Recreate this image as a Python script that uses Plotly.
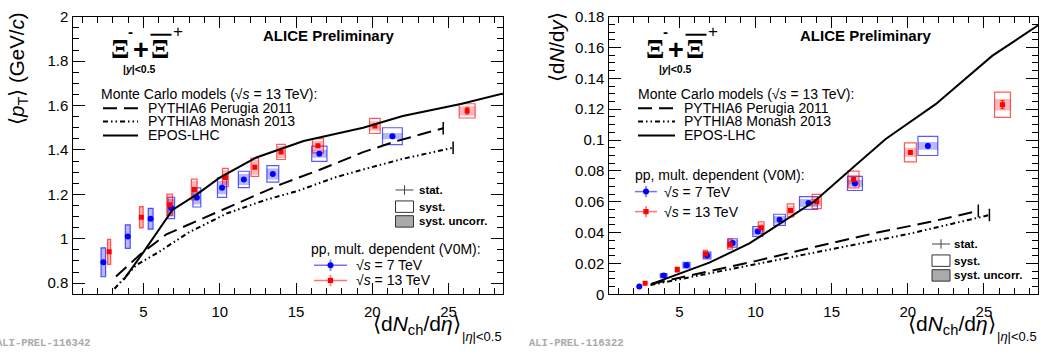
import plotly.graph_objects as go

W, H = 1041, 358

# ---------------- data: <pT> vs <dNch/deta> ----------------
dndeta_7 = [2.37, 3.97, 5.47, 6.82, 8.50, 10.15, 11.58, 13.48, 16.53, 21.32]
dndeta_13 = [2.75, 4.86, 6.72, 8.33, 10.37, 12.30, 14.02, 16.44, 20.17, 26.22]

ex_7_pt = [0.15, 0.16, 0.16, 0.22, 0.26, 0.30, 0.36, 0.39, 0.50, 0.65]
ex_13_pt = [0.10, 0.12, 0.19, 0.19, 0.19, 0.25, 0.28, 0.36, 0.35, 0.52]

pt_7 = [0.894, 1.010, 1.090, 1.139, 1.186, 1.230, 1.267, 1.292, 1.383, 1.462]
pt_7_syst = [0.065, 0.053, 0.047, 0.048, 0.043, 0.044, 0.037, 0.037, 0.034, 0.038]
pt_7_unc = [0.065, 0.053, 0.047, 0.040, 0.032, 0.030, 0.025, 0.025, 0.018, 0.014]
pt_7_stat = [0.005, 0.005, 0.005, 0.005, 0.005, 0.005, 0.005, 0.005, 0.006, 0.007]

pt_13 = [0.941, 1.097, 1.153, 1.222, 1.276, 1.322, 1.391, 1.419, 1.508, 1.576]
pt_13_syst = [0.056, 0.048, 0.048, 0.047, 0.041, 0.041, 0.034, 0.032, 0.034, 0.032]
pt_13_unc = [0.056, 0.048, 0.043, 0.039, 0.034, 0.034, 0.027, 0.021, 0.021, 0.021]
pt_13_stat = [0.004, 0.004, 0.004, 0.004, 0.005, 0.005, 0.005, 0.006, 0.007, 0.014]

# ---------------- data: <dN/dy> vs <dNch/deta> ----------------
ex_7_dndy = [0.12, 0.22, 0.23, 0.25, 0.30, 0.33, 0.38, 0.59, 0.49, 0.65]
ex_13_dndy = [0.10, 0.11, 0.14, 0.16, 0.19, 0.22, 0.30, 0.36, 0.39, 0.52]

dndy_7 = [0.0051, 0.0121, 0.0189, 0.0251, 0.0333, 0.0407, 0.0483, 0.0592, 0.0719, 0.0962]
dndy_7_syst = [0.0006, 0.0013, 0.0018, 0.0022, 0.0027, 0.0032, 0.0036, 0.0041, 0.0046, 0.0062]
dndy_7_unc = [0.0006, 0.0012, 0.0015, 0.0018, 0.0020, 0.0022, 0.0024, 0.0026, 0.0022, 0.0025]
dndy_7_stat = [0.0002, 0.0003, 0.0003, 0.0004, 0.0004, 0.0005, 0.0005, 0.0006, 0.0008, 0.0012]

dndy_13 = [0.0072, 0.0160, 0.0261, 0.0325, 0.0432, 0.0544, 0.0602, 0.0744, 0.0920, 0.1229]
dndy_13_syst = [0.0008, 0.0016, 0.0024, 0.0032, 0.0038, 0.0042, 0.0046, 0.0054, 0.0062, 0.0082]
dndy_13_unc = [0.0008, 0.0015, 0.0020, 0.0024, 0.0027, 0.0030, 0.0030, 0.0030, 0.0030, 0.0038]
dndy_13_stat = [0.0002, 0.0003, 0.0004, 0.0004, 0.0005, 0.0006, 0.0007, 0.0008, 0.0012, 0.0026]

# ---------------- Monte Carlo models (13 TeV) ----------------
epos_pt_x = [3.7, 5.0, 6.9, 8.5, 10.0, 12.4, 15.5, 19.4, 22.0, 25.8, 28.6]
epos_pt_y = [0.815, 0.94, 1.13, 1.20, 1.275, 1.366, 1.440, 1.500, 1.553, 1.607, 1.655]
p6_pt_x = [3.2, 4.8, 6.5, 10.3, 14.0, 16.6, 19.4, 21.6, 24.65]
p6_pt_y = [0.830, 0.930, 1.020, 1.135, 1.245, 1.312, 1.390, 1.440, 1.498]
p8_pt_x = [3.1, 4.5, 6.0, 8.0, 10.5, 13.0, 15.1, 17.5, 19.4, 22.0, 25.3]
p8_pt_y = [0.775, 0.880, 0.940, 1.030, 1.115, 1.175, 1.215, 1.275, 1.312, 1.360, 1.410]

epos_dndy_x = [3.14, 6.97, 9.6, 12.0, 13.9, 16.4, 18.55, 21.83, 25.54, 28.6]
epos_dndy_y = [0.0066, 0.0205, 0.033, 0.0483, 0.0605, 0.0822, 0.1007, 0.1233, 0.1546, 0.1747]
p6_dndy_x = [3.14, 6.8, 10.0, 14.0, 18.0, 21.5, 24.63]
p6_dndy_y = [0.0066, 0.0145, 0.0215, 0.031, 0.040, 0.047, 0.0541]
p8_dndy_x = [3.1, 7.0, 10.0, 15.0, 20.0, 25.36]
p8_dndy_y = [0.0060, 0.0135, 0.0195, 0.029, 0.039, 0.0514]

# ---------------- styling ----------------
FONT = "Liberation Sans, Arial, Helvetica, sans-serif"
SERIF = "Liberation Serif, Times New Roman, serif"
BLUE = (0, 0, 255)
RED = (255, 0, 0)
DASH6 = "14px,7px"
DASH8 = "5px,3px,1.5px,3px,1.5px,3px"


def px(x):
    return x / W


def py(y):
    return 1 - y / H


fig = go.Figure()


def add_series(xa, ya, x, y, ex, syst, unc, stat, rgb, symbol, size):
    r, g, b = rgb
    fig.add_trace(go.Bar(
        x=x, y=[2 * u for u in unc], base=[v - u for v, u in zip(y, unc)],
        width=[2 * e for e in ex], xaxis=xa, yaxis=ya,
        marker=dict(color=f"rgba({r},{g},{b},0.28)", line=dict(width=0)),
        showlegend=False, hoverinfo="skip"))
    fig.add_trace(go.Bar(
        x=x, y=[2 * s for s in syst], base=[v - s for v, s in zip(y, syst)],
        width=[2 * e for e in ex], xaxis=xa, yaxis=ya,
        marker=dict(color="rgba(0,0,0,0)", line=dict(color=f"rgba({r},{g},{b},0.65)", width=1.2)),
        showlegend=False, hoverinfo="skip"))
    fig.add_trace(go.Scatter(
        x=x, y=y, mode="markers", xaxis=xa, yaxis=ya,
        marker=dict(symbol=symbol, size=size, color=f"rgb({r},{g},{b})", line=dict(width=0)),
        error_y=dict(type="data", array=stat, color=f"rgb({r},{g},{b})", thickness=1, width=2),
        showlegend=False))


def add_model(xa, ya, x, y, dash, cap):
    fig.add_trace(go.Scatter(
        x=x, y=y, mode="lines", xaxis=xa, yaxis=ya,
        line=dict(color="black", width=2, dash=dash), showlegend=False))
    if cap:
        fig.add_trace(go.Scatter(
            x=[x[-1]], y=[y[-1]], mode="markers", xaxis=xa, yaxis=ya,
            marker=dict(symbol="line-ns", size=9, line=dict(color="black", width=1.5)),
            showlegend=False))


# left panel
add_series("x", "y", dndeta_7, pt_7, ex_7_pt, pt_7_syst, pt_7_unc, pt_7_stat, BLUE, "circle", 6)
add_series("x", "y", dndeta_13, pt_13, ex_13_pt, pt_13_syst, pt_13_unc, pt_13_stat, RED, "square", 5)
add_model("x", "y", p6_pt_x, p6_pt_y, DASH6, True)
add_model("x", "y", p8_pt_x, p8_pt_y, DASH8, True)
add_model("x", "y", epos_pt_x, epos_pt_y, "solid", False)

# right panel
add_series("x2", "y2", dndeta_7, dndy_7, ex_7_dndy, dndy_7_syst, dndy_7_unc, dndy_7_stat, BLUE, "circle", 6)
add_series("x2", "y2", dndeta_13, dndy_13, ex_13_dndy, dndy_13_syst, dndy_13_unc, dndy_13_stat, RED, "square", 5)
add_model("x2", "y2", p6_dndy_x, p6_dndy_y, DASH6, True)
add_model("x2", "y2", p8_dndy_x, p8_dndy_y, DASH8, True)
add_model("x2", "y2", epos_dndy_x, epos_dndy_y, "solid", False)

axis_common = dict(
    showline=True, linecolor="black", linewidth=1, mirror="allticks",
    ticks="inside", ticklen=11, tickwidth=1, tickcolor="black",
    showgrid=False, zeroline=False, ticklabeloverflow="allow",
    tickfont=dict(family=FONT, size=15, color="black"),
    minor=dict(ticks="inside", ticklen=6, tickcolor="black", tickwidth=1, showgrid=False),
)
ydom = [1 - 299.5 / H, 1 - 8 / H]

fig.update_layout(
    width=W, height=H, autosize=False,
    margin=dict(l=0, r=0, t=0, b=0),
    paper_bgcolor="white", plot_bgcolor="white",
    barmode="overlay", showlegend=False,
    font=dict(family=FONT, color="black"),
    xaxis=dict(axis_common, domain=[73.3 / W, 502.7 / W], range=[0.4, 28.55],
               tick0=0, dtick=5, minor=dict(axis_common["minor"], dtick=1), anchor="y",
               ticklabelstandoff=4),
    yaxis=dict(axis_common, domain=ydom, range=[0.75, 2.0005], tick0=0, dtick=0.2,
               minor=dict(axis_common["minor"], dtick=0.05), anchor="x", ticklen=12,
               ticklabelstandoff=1),
    xaxis2=dict(axis_common, domain=[609.3 / W, 1038 / W], range=[0.4, 28.55],
                tick0=0, dtick=5, minor=dict(axis_common["minor"], dtick=1), anchor="y2",
                ticklabelstandoff=4),
    yaxis2=dict(axis_common, domain=ydom, range=[0, 0.18005], tick0=0, dtick=0.02,
                minor=dict(axis_common["minor"], dtick=0.005), anchor="x2", ticklen=12,
                ticklabelstandoff=1),
)

ann = []
shapes = []


def text(x, y, s, size=14, xanchor="left", yanchor="middle", bold=False, family=FONT,
         color="black", angle=0):
    ann.append(dict(x=px(x), y=py(y), xref="paper", yref="paper", text=(f"<b>{s}</b>" if bold else s),
                    showarrow=False, xanchor=xanchor, yanchor=yanchor, textangle=angle,
                    borderpad=0, font=dict(family=family, size=size, color=color)))


def seg(x0, y0, x1, y1, color="black", width=2, dash="solid"):
    shapes.append(dict(type="line", xref="paper", yref="paper", x0=px(x0), y0=py(y0),
                       x1=px(x1), y1=py(y1), line=dict(color=color, width=width, dash=dash)))


def rect(x0, y0, x1, y1, line="black", fill="white", width=1):
    shapes.append(dict(type="rect", xref="paper", yref="paper", x0=px(x0), y0=py(y0),
                       x1=px(x1), y1=py(y1), line=dict(color=line, width=width), fillcolor=fill))


def dot(x, y, r, color, square=False):
    shapes.append(dict(type="rect" if square else "circle", xref="paper", yref="paper",
                       xsizemode="pixel", ysizemode="pixel", xanchor=px(x), yanchor=py(y),
                       x0=-r, x1=r, y0=-r, y1=r, fillcolor=color, line=dict(width=0)))


SQRT_S = "√<i>s</i>"

panels = [
    dict(x0=73.3, x1=502.7, alice=329, xi=110, yx=139.5, mc=100, mcl=103, mcl2=138, mct=147,
         stat=395.5, statt=417.5, staty=190, pp=310, ppl0=314, ppl1=347, ppt=355, ppy=269,
         ytitle="⟨<i>p</i><sub>T</sub>⟩ (GeV/<i>c</i>)", ytx=18.5,
         wm="ALI-PREL-116342", wmx=92, wmanchor="right"),
    dict(x0=609.3, x1=1038, alice=866, xi=645, yx=675, mc=637, mcl=638, mcl2=675, mct=683,
         stat=932, statt=953, staty=246.7, pp=634, ppl0=635, ppl1=657, ppt=663, ppy=191.7,
         ytitle="⟨d<i>N</i>/d<i>y</i>⟩", ytx=557,
         wm="ALI-PREL-116322", wmx=528, wmanchor="left"),
]

for p in panels:
    text(p["alice"], 28, "ALICE Preliminary", size=15, xanchor="center", bold=True)
    # particle label: Xi- + anti-Xi+
    text(p["xi"], 42, "<b>Ξ</b>", size=27, family=SERIF)
    text(p["xi"] + 16.5, 24, "<b>-</b>", size=15, family=FONT)
    text(p["xi"] + 22, 43, "<b>+</b>", size=27, family=FONT)
    text(p["xi"] + 40, 42, "<b>Ξ</b>", size=27, family=SERIF)
    seg(p["xi"] + 40.5, 27, p["xi"] + 61.5, 27, width=2)
    text(p["xi"] + 62, 24, "+", size=17, family=FONT)
    text(p["yx"], 62.5, "|<i>y</i>|&lt;0.5", size=10.5, xanchor="center", bold=True)
    text(p["mc"], 89.5, f"Monte Carlo models ({SQRT_S} = 13 TeV):", size=14)
    for yy, lab, dsh in [(104.3, "PYTHIA6 Perugia 2011", DASH6),
                         (118, "PYTHIA8 Monash 2013", DASH8),
                         (132.7, "EPOS-LHC", "solid")]:
        seg(p["mcl"], yy, p["mcl2"], yy, dash=dsh)
        text(p["mct"], yy, lab, size=14)
    # stat / syst legend
    sx0, sx1, sy = p["stat"], p["stat"] + 18, p["staty"]
    seg(sx0, sy, sx1, sy, color="#444", width=1)
    seg((sx0 + sx1) / 2, sy - 5, (sx0 + sx1) / 2, sy + 5, color="#444", width=1)
    text(p["statt"], sy, "stat.", size=11.5, bold=True)
    rect(sx0, sy + 11.5, sx1, sy + 23.5, line="#333", fill="white")
    text(p["statt"], sy + 17.5, "syst.", size=11.5, bold=True)
    rect(sx0, sy + 27, sx1, sy + 39, line="#333", fill="#aaaaaa")
    text(p["statt"], sy + 33, "syst. uncorr.", size=11.5, bold=True)
    # data legend
    text(p["pp"], p["ppy"] - 17.5, "pp, mult. dependent (V0M):", size=14)
    for k, (rgb, lab, sq) in enumerate([(BLUE, f"{SQRT_S} = 7 TeV", False),
                                        (RED, f"{SQRT_S} = 13 TeV", True)]):
        yy = p["ppy"] + 16 * k + (5 * k if p["wmanchor"] == "left" else 0)
        r, g, b = rgb
        seg(p["ppl0"], yy, p["ppl1"], yy, color=f"rgba({r},{g},{b},0.55)", width=1.5)
        mid = (p["ppl0"] + p["ppl1"]) / 2
        seg(mid, yy - 6, mid, yy + 6, color=f"rgba({r},{g},{b},0.45)", width=2)
        dot(mid, yy, 2.6 if sq else 3, f"rgb({r},{g},{b})", square=sq)
        text(p["ppt"], yy, lab, size=14)
    # axis titles
    text(p["ytx"], 2, p["ytitle"], size=20.5, xanchor="center", yanchor="top", angle=-90)
    text(p["x1"] - 41, 317, "⟨d<i>N</i><sub>ch</sub>/d<i>η</i>⟩", size=21,
         xanchor="right", yanchor="top")
    text(p["x1"], 343.5, "|<i>η</i>|&lt;0.5", size=13, xanchor="right", yanchor="middle")
    text(p["wmx"], 351, p["wm"], size=10.5, xanchor=p["wmanchor"], bold=True,
         family="Liberation Mono, Courier New, monospace", color="#aaaaaa")

fig.update_layout(annotations=ann, shapes=shapes)
fig.write_html("out.html")
